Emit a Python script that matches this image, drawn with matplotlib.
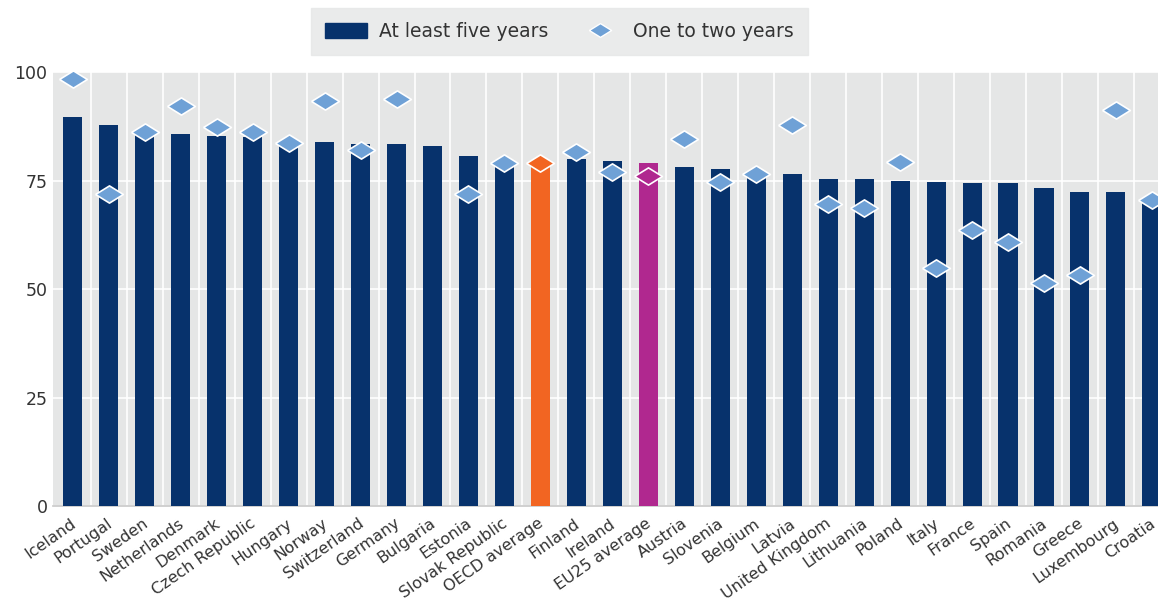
import numpy as np
import matplotlib.pyplot as plt
from matplotlib.lines import Line2D
from matplotlib.patches import Patch

countries = ["Iceland", "Portugal", "Sweden", "Netherlands", "Denmark", "Czech Republic",
             "Hungary", "Norway", "Switzerland", "Germany", "Bulgaria", "Estonia",
             "Slovak Republic", "OECD average", "Finland", "Ireland", "EU25 average",
             "Austria", "Slovenia", "Belgium", "Latvia", "United Kingdom", "Lithuania",
             "Poland", "Italy", "France", "Spain", "Romania", "Greece", "Luxembourg", "Croatia"]
five_years = [89.7, 87.9, 85.6, 85.6, 85.3, 85.0, 83.0, 83.8, 83.4, 83.5, 83.0, 80.6,
              78.6, 79.5, 79.9, 79.4, 79.1, 78.0, 77.6, 76.8, 76.6, 75.4, 75.4,
              75.0, 74.7, 74.4, 74.4, 73.2, 72.4, 72.4, 70.0]
one_two_years = [98.5, 72.0, 86.2, 92.2, 87.4, 86.1, 83.6, 93.4, 82.0, 93.7, np.nan, 72.0,
                 79.1, 79.0, 81.6, 76.9, 76.1, 84.6, 74.7, 76.6, 87.9, 69.7, 68.7,
                 79.3, 54.8, 63.6, 60.8, 51.4, 53.2, 91.2, 70.5]

navy = "#07326c"
light = "#6fa1d6"
bar_colors = [navy] * len(countries)
bar_colors[countries.index("OECD average")] = "#f26522"
bar_colors[countries.index("EU25 average")] = "#b0288f"
diamond_colors = [light if c == navy else c for c in bar_colors]

plt.rcParams['font.family'] = ['DejaVu Sans']

fig = plt.figure(figsize=(11.58, 6.05), dpi=100)
ax = fig.add_axes([0.0458, 0.1636, 0.9542, 0.7174])
ax.set_facecolor("#e5e6e6")

x = np.arange(len(countries))
ax.bar(x, five_years, width=0.53, color=bar_colors, zorder=3)

diamond = [(-1, 0), (0, 0.62), (1, 0), (0, -0.62), (-1, 0)]
for xi, v, c in zip(x, one_two_years, diamond_colors):
    if np.isnan(v):
        continue
    ax.plot(xi, v, marker=diamond, markersize=20, color=c, markeredgecolor="white",
            markeredgewidth=1.2, linestyle="none", zorder=4)

ax.set_xlim(-0.55, 30.17)
ax.set_ylim(0, 100)
ax.set_yticks([0, 25, 50, 75, 100])
ax.set_xticks(x)
ax.set_xticklabels([])
# country labels, slanted, right end just under each bar
for xi, name in zip(x, countries):
    ax.annotate(name, (xi, 0), xycoords=("data", "axes fraction"),
                xytext=(-2, -7), textcoords="offset points", rotation=35,
                ha="right", va="top", rotation_mode="anchor",
                fontsize=11.5, color="#333333", annotation_clip=False)
ax.set_xticks(x[:-1] + 0.5, minor=True)
ax.tick_params(axis="y", length=0, labelsize=12.5, labelcolor="#333333", pad=4)
ax.tick_params(axis="x", which="both", length=0)
ax.grid(axis="y", color="white", linewidth=1.2, zorder=1)
ax.grid(axis="x", which="minor", color="white", linewidth=1.2, zorder=1)
ax.grid(axis="x", which="major", visible=False)
for s in ["top", "right", "left"]:
    ax.spines[s].set_visible(False)
ax.spines["bottom"].set_color("#c8c8c8")
ax.spines["bottom"].set_linewidth(1.2)

handles = [Patch(facecolor=navy, edgecolor=navy),
           Line2D([], [], marker=diamond, markersize=16, color=light,
                  markeredgecolor="white", linestyle="none")]
leg = fig.legend(handles, ["At least five years", "One to two years"], ncol=2,
                 loc="upper center", bbox_to_anchor=(0.483, 0.987), frameon=True,
                 fancybox=False, fontsize=13.5, handlelength=2.25, handleheight=0.8,
                 columnspacing=1.6, handletextpad=0.65, borderpad=0.75, borderaxespad=0)
leg.get_frame().set_facecolor("#e5e6e6")
leg.get_frame().set_edgecolor("#e5e6e6")
for t in leg.get_texts():
    t.set_color("#333333")

fig.savefig("out.png", dpi=100)
